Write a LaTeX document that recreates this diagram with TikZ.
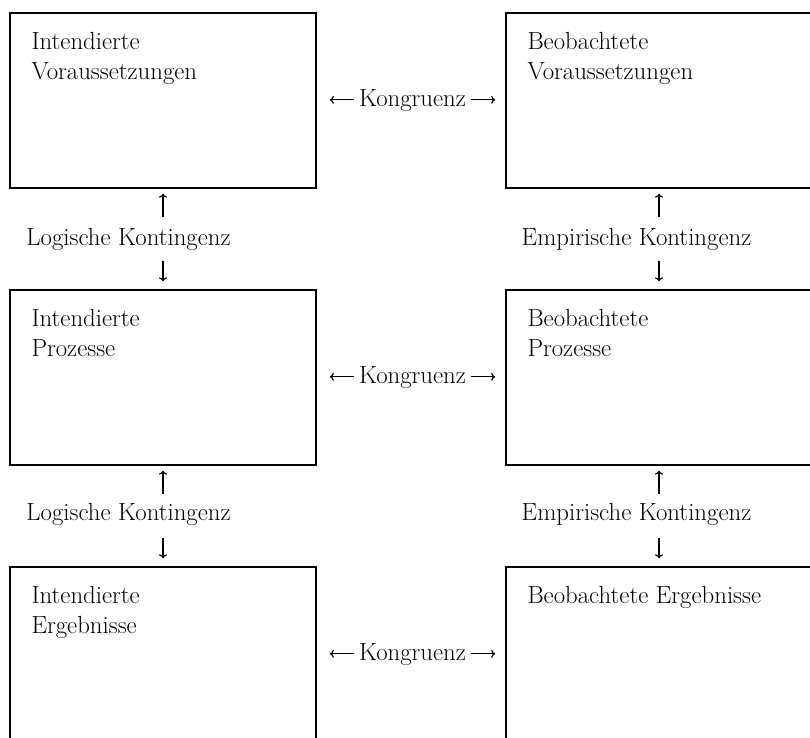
\documentclass[tikz,border=0pt]{standalone}
\usepackage{fontspec}
\usetikzlibrary{arrows.meta}
\begin{document}
\begin{tikzpicture}[x=1pt,y=-1pt,
  box/.style={draw, line width=1.4pt, minimum width=306pt, minimum height=175pt, inner sep=0pt},
  txt/.style={inner sep=0pt, align=left, font=\fontsize{24.8}{30}\selectfont, anchor=north west},
  lbl/.style={inner sep=0pt, font=\fontsize{24.8}{30}\selectfont, anchor=base},
  arr/.style={line width=1.2pt, -{To[length=4pt,width=8pt]}}]
\useasboundingbox (0,0) rectangle (810,737);

% boxes
\node[box] (iv) at (163,100.5) {};
\node[box] (bv) at (659,100.5) {};
\node[box] (ip) at (163,377.5) {};
\node[box] (bp) at (659,377.5) {};
\node[box] (ie) at (163,654.5) {};
\node[box] (be) at (659,654.5) {};

% box texts
\node[txt] (ivt) at ([shift={(22,20)}]iv.north west) {Intendierte\\Voraussetzungen};
\node[txt] (bvt) at ([shift={(22,20)}]bv.north west) {Beobachtete\\Voraussetzungen};
\node[txt] (ipt) at ([shift={(22,20)}]ip.north west) {Intendierte\\Prozesse};
\node[txt] (bpt) at ([shift={(22,20)}]bp.north west) {Beobachtete\\Prozesse};
\node[txt] (iet) at ([shift={(22,20)}]ie.north west) {Intendierte\\Ergebnisse};
\node[txt] (bet) at ([shift={(22,20)}]be.north west) {Beobachtete Ergebnisse};

% Kongruenz
\foreach \n/\y in {k1/106, k2/383, k3/660}{
  \node[lbl] (\n) at (412.5,\y) {Kongruenz};
  \draw[arr] ([xshift=-5pt,yshift=6.2pt]\n.base west) -- ++(-24,0);
  \draw[arr] ([xshift=5pt,yshift=6.2pt]\n.base east) -- ++(24,0);
}

% Kontingenz labels
\node[lbl] (lk1) at (128.5,245) {Logische Kontingenz};
\node[lbl] (lk2) at (128.5,520) {Logische Kontingenz};
\node[lbl] (ek1) at (636.5,245) {Empirische Kontingenz};
\node[lbl] (ek2) at (636.5,520) {Empirische Kontingenz};

% vertical arrows
\draw[arr] ([yshift=-28pt]iv.south) -- ([yshift=-5pt]iv.south);
\draw[arr] ([yshift=28pt]ip.north) -- ([yshift=8pt]ip.north);
\draw[arr] ([yshift=-28pt]ip.south) -- ([yshift=-5pt]ip.south);
\draw[arr] ([yshift=28pt]ie.north) -- ([yshift=8pt]ie.north);
\draw[arr] ([yshift=-28pt]bv.south) -- ([yshift=-5pt]bv.south);
\draw[arr] ([yshift=28pt]bp.north) -- ([yshift=8pt]bp.north);
\draw[arr] ([yshift=-28pt]bp.south) -- ([yshift=-5pt]bp.south);
\draw[arr] ([yshift=28pt]be.north) -- ([yshift=8pt]be.north);
\end{tikzpicture}
\end{document}
